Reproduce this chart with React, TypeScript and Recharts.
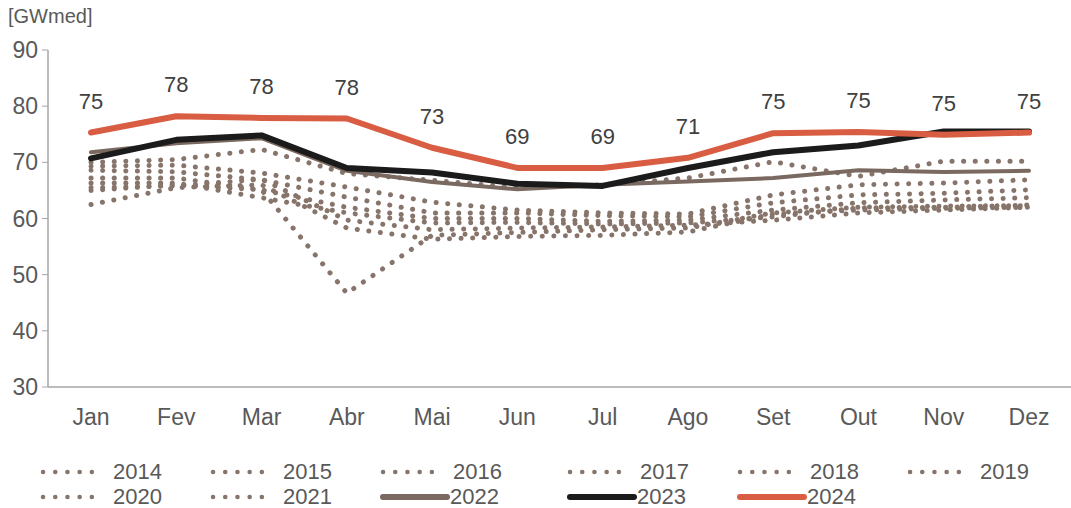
import React from 'react';
import { LineChart, Line, XAxis, YAxis, LabelList } from 'recharts';

const months = ['Jan', 'Fev', 'Mar', 'Abr', 'Mai', 'Jun', 'Jul', 'Ago', 'Set', 'Out', 'Nov', 'Dez'];
const yTicks = [30, 40, 50, 60, 70, 80, 90];

const s2014 = [62.5, 65.5, 66.0, 58.3, 56.3, 56.8, 57.0, 57.6, 60.8, 61.5, 61.8, 62.0];
const s2015 = [65.0, 66.0, 65.1, 46.7, 57.0, 57.5, 58.0, 58.3, 61.0, 62.0, 62.2, 62.3];
const s2016 = [65.5, 65.8, 67.0, 59.7, 58.0, 58.3, 58.5, 58.8, 59.7, 61.0, 61.5, 62.0];
const s2017 = [66.3, 66.3, 63.7, 61.0, 59.2, 59.3, 59.0, 59.2, 60.3, 61.9, 62.0, 62.4];
const s2018 = [67.2, 67.2, 65.1, 62.0, 60.0, 60.0, 59.5, 59.7, 61.5, 62.8, 63.3, 63.7];
const s2019 = [68.6, 68.3, 66.9, 63.8, 61.0, 61.0, 60.5, 60.3, 62.8, 64.2, 64.5, 65.1];
const s2020 = [69.3, 69.5, 68.1, 65.6, 62.9, 61.5, 61.0, 60.8, 64.2, 66.0, 66.3, 66.9];
const s2021 = [70.0, 70.5, 72.3, 68.0, 66.8, 65.5, 66.0, 67.2, 70.1, 67.5, 70.2, 70.2];
const s2022 = [71.8, 73.4, 74.3, 68.5, 66.5, 65.2, 66.0, 66.6, 67.2, 68.6, 68.3, 68.5];
const s2023 = [70.7, 74.0, 74.8, 69.0, 68.2, 66.2, 65.8, 69.0, 71.8, 73.0, 75.5, 75.5];
const s2024 = [75.3, 78.2, 77.9, 77.8, 72.6, 69.0, 69.0, 70.8, 75.2, 75.4, 74.9, 75.3];
const labels2024 = ['75', '78', '78', '78', '73', '69', '69', '71', '75', '75', '75', '75'];

const seriesNames = ['2014', '2015', '2016', '2017', '2018', '2019', '2020', '2021', '2022', '2023', '2024'];
const seriesValues = [s2014, s2015, s2016, s2017, s2018, s2019, s2020, s2021, s2022, s2023, s2024];

const DOT = '#87746a';
const C2022 = '#7a6960';
const C2023 = '#1b1b1b';
const C2024 = '#d95d43';

const styleFor = (name: string) => {
  if (name === '2022') return { stroke: C2022, width: 4, dash: undefined as string | undefined };
  if (name === '2023') return { stroke: C2023, width: 6, dash: undefined };
  if (name === '2024') return { stroke: C2024, width: 6, dash: undefined };
  return { stroke: DOT, width: 5, dash: '0.1 11.5' };
};

const data = months.map((m, i) => {
  const row: Record<string, string | number> = { month: m, label2024: labels2024[i] };
  seriesNames.forEach((n, k) => {
    row['y' + n] = seriesValues[k][i];
  });
  return row;
});

const FONT = '"Liberation Sans", Arial, sans-serif';
const legendCols = [40, 210, 380, 567, 737, 907];

export default function App() {
  return (
    <div style={{ position: 'absolute', left: 0, top: 0, width: 1071, height: 508, background: '#fff', fontFamily: FONT }}>
      <div style={{ position: 'absolute', left: 8, top: 5, fontSize: 20, color: '#595959' }}>[GWmed]</div>
      <LineChart width={1071} height={508} data={data} margin={{ top: 50, right: 0, left: 0, bottom: 81 }}>
        <XAxis
          dataKey="month"
          axisLine={{ stroke: '#a6a6a6', strokeWidth: 1.5 }}
          tickLine={false}
          tick={{ fill: '#595959', fontSize: 23, fontFamily: FONT }}
          tickMargin={16}
          height={40}
          interval={0}
          padding={{ left: 43, right: 42 }}
        />
        <YAxis
          domain={[30, 90]}
          ticks={yTicks}
          width={48}
          axisLine={{ stroke: '#a6a6a6', strokeWidth: 1.5 }}
          tickLine={{ stroke: '#a6a6a6' }}
          tickSize={6}
          tickMargin={4}
          tick={{ fill: '#595959', fontSize: 23, fontFamily: FONT }}
          interval={0}
        />
        {seriesNames.map((n) => {
          const st = styleFor(n);
          return (
            <Line
              key={n}
              dataKey={'y' + n}
              type="linear"
              stroke={st.stroke}
              strokeWidth={st.width}
              strokeDasharray={st.dash}
              strokeLinecap="round"
              strokeLinejoin="round"
              dot={false}
              activeDot={false}
              isAnimationActive={false}
            >
              {n === '2024' ? (
                <LabelList dataKey="label2024" position="top" offset={24} fill="#404040" fontSize={22} fontFamily={FONT} />
              ) : null}
            </Line>
          );
        })}
      </LineChart>
      {seriesNames.map((n, i) => {
        const st = styleFor(n);
        const col = i % 6;
        const row = Math.floor(i / 6);
        const left = legendCols[col];
        const top = 461 + row * 25;
        return (
          <div key={n} style={{ position: 'absolute', left, top, height: 22, display: 'flex', alignItems: 'center' }}>
            <svg width={70} height={10} style={{ display: 'block' }}>
              <line
                x1={3}
                y1={5}
                x2={st.dash ? 64 : 67}
                y2={5}
                stroke={st.stroke}
                strokeWidth={st.dash ? 4.5 : 6}
                strokeDasharray={st.dash ? '0.1 12.1' : undefined}
                strokeLinecap="round"
              />
            </svg>
            <span style={{ fontSize: 22, color: '#595959', marginLeft: st.dash ? 3 : 0, lineHeight: '22px' }}>{n}</span>
          </div>
        );
      })}
    </div>
  );
}
